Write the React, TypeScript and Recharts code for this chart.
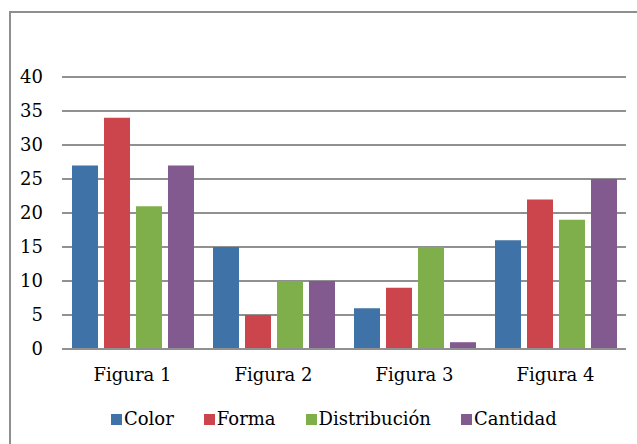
import React from "react";
import {
  Bar,
  BarChart,
  XAxis,
  YAxis,
  CartesianGrid,
  Legend,
} from "recharts";

// Categories and series
const categories = ["Figura 1", "Figura 2", "Figura 3", "Figura 4"];
const colorValues = [27, 15, 6, 16];
const formaValues = [34, 5, 9, 22];
const distribucionValues = [21, 10, 15, 19];
const cantidadValues = [27, 10, 1, 25];
const yTicks = [0, 5, 10, 15, 20, 25, 30, 35, 40];

const series = [
  { key: "Color", color: "#3f72a6" },
  { key: "Forma", color: "#cc444c" },
  { key: "Distribución", color: "#7faf4a" },
  { key: "Cantidad", color: "#835a90" },
];

const chartData = categories.map((name, i) => ({
  name,
  Color: colorValues[i],
  Forma: formaValues[i],
  Distribución: distribucionValues[i],
  Cantidad: cantidadValues[i],
}));

const font = "'DejaVu Serif', serif";
const fontSize = 18;
const gridColor = "#909090";

// Legend with small square markers, like the spreadsheet original
const CustomLegend = () => (
  <div
    style={{
      display: "flex",
      alignItems: "center",
      gap: 30,
      height: 24,
      fontFamily: font,
      fontSize,
      color: "#000",
    }}
  >
    {series.map((s) => (
      <div key={s.key} style={{ display: "flex", alignItems: "center" }}>
        <span
          style={{
            display: "inline-block",
            width: 11,
            height: 11,
            background: s.color,
            marginRight: 2,
          }}
        />
        <span style={{ lineHeight: "24px" }}>{s.key}</span>
      </div>
    ))}
  </div>
);

export default function App() {
  return (
    <div
      style={{
        position: "fixed",
        left: 0,
        top: 0,
        width: 637,
        height: 444,
        overflow: "hidden",
        background: "#fff",
        fontFamily: font,
      }}
    >
      {/* outer frame, runs past the right and bottom edges */}
      <div
        style={{
          position: "absolute",
          left: 9,
          top: 11,
          width: 800,
          height: 600,
          border: "2px solid #8f8f8f",
          boxSizing: "border-box",
        }}
      />
      <div style={{ position: "absolute", left: 0, top: 0 }}>
        <BarChart
          width={637}
          height={444}
          data={chartData}
          margin={{ top: 77, right: 11, bottom: 13, left: 0 }}
          barGap={6}
          barCategoryGap={10}
          style={{ fontFamily: font }}
        >
          <CartesianGrid vertical={false} stroke={gridColor} strokeWidth={2} />
          <XAxis
            dataKey="name"
            height={58}
            axisLine={{ stroke: gridColor, strokeWidth: 2 }}
            tickLine={false}
            tickSize={0}
            tickMargin={19}
            tick={{ fontFamily: font, fontSize, fill: "#000" }}
          />
          <YAxis
            width={62}
            domain={[0, 40]}
            ticks={yTicks}
            axisLine={false}
            tickLine={false}
            tickSize={0}
            tickMargin={19}
            tick={{ fontFamily: font, fontSize, fill: "#000" }}
          />
          <Legend
            verticalAlign="bottom"
            content={<CustomLegend />}
            wrapperStyle={{ left: 111, width: 520, height: 24 }}
          />
          {series.map((s) => (
            <Bar
              key={s.key}
              dataKey={s.key}
              fill={s.color}
              isAnimationActive={false}
            />
          ))}
        </BarChart>
      </div>
    </div>
  );
}
